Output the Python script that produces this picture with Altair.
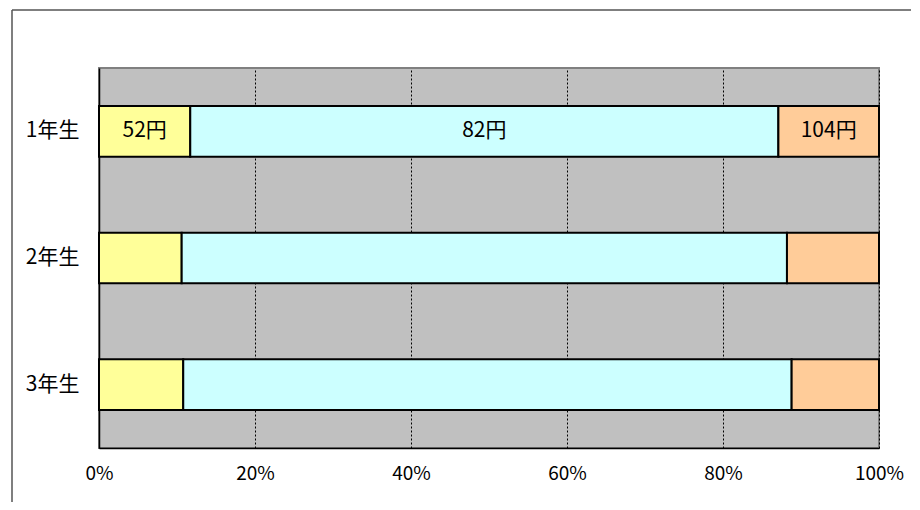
import altair as alt
import pandas as pd

grades = ["1年生", "2年生", "3年生"]
prices = ["52円", "82円", "104円"]
share_52 = [11.7, 10.6, 10.8]
share_82 = [75.4, 77.6, 78.0]
share_104 = [12.9, 11.8, 11.2]
colors = ["#FFFF99", "#CCFFFF", "#FFCC99"]

series = {"52円": share_52, "82円": share_82, "104円": share_104}
rows = []
for pi, p in enumerate(prices):
    for gi, g in enumerate(grades):
        rows.append({"grade": g, "price": p, "ord": pi, "share": series[p][gi]})
df = pd.DataFrame(rows)

FONT = "Noto Sans CJK JP"

base = (
    alt.Chart(df)
    .transform_joinaggregate(total="sum(share)", groupby=["grade"])
    .transform_window(
        cum="sum(share)",
        sort=[alt.SortField("ord")],
        groupby=["grade"],
        frame=[None, 0],
    )
    .transform_calculate(
        start="(datum.cum - datum.share) / datum.total",
        end="datum.cum / datum.total",
        mid="(datum.cum - datum.share / 2) / datum.total",
    )
)

yenc = alt.Y(
    "grade:N",
    sort=grades,
    scale=alt.Scale(domain=grades, paddingInner=0.6, paddingOuter=0.3),
    axis=alt.Axis(
        title=None,
        labelFont=FONT,
        labelFontSize=21,
        labelColor="black",
        labelPadding=20,
        ticks=False,
        domainColor="black",
        domainWidth=1.5,
    ),
)

xscale = alt.Scale(domain=[0, 1], nice=False)

bars = base.mark_bar(stroke="black", strokeWidth=2).encode(
    x=alt.X(
        "start:Q",
        scale=xscale,
        axis=alt.Axis(
            title=None,
            values=[0, 0.2, 0.4, 0.6, 0.8, 1.0],
            format=".0%",
            labelFont=FONT,
            labelFontSize=19,
            labelColor="black",
            labelPadding=16,
            labelFlush=False,
            ticks=False,
            grid=True,
            gridColor="black",
            gridDash=[2, 2],
            gridWidth=1,
            domainColor="black",
            domainWidth=1.5,
        ),
    ),
    x2="end:Q",
    y=yenc,
    color=alt.Color(
        "price:N", scale=alt.Scale(domain=prices, range=colors), legend=None
    ),
)

labels = (
    base.transform_filter(alt.datum.grade == grades[0])
    .mark_text(font=FONT, fontSize=21, color="black")
    .encode(
        x=alt.X("mid:Q", scale=xscale),
        y=alt.Y("grade:N", sort=grades),
        text="price:N",
    )
)

frame_df = pd.DataFrame({"k": [0]})
left_border = alt.Chart(frame_df).mark_rule(color="#555555", strokeWidth=1.5).encode(
    x=alt.value(-87), y=alt.value(-58), y2=alt.value(434)
)
top_border = alt.Chart(frame_df).mark_rule(color="#555555", strokeWidth=1.5).encode(
    x=alt.value(-87), x2=alt.value(812), y=alt.value(-58)
)

chart = (
    alt.layer(bars, labels, left_border, top_border)
    .properties(
        width=780,
        height=380,
        autosize=alt.AutoSizeParams(type="none"),
        padding={"left": 91, "top": 60, "right": 32, "bottom": 54},
        background="white",
    )
    .configure_view(fill="#C0C0C0", stroke="#808080", strokeWidth=2)
)

chart.save("out.html", embed_options={"renderer": "svg", "actions": False})
